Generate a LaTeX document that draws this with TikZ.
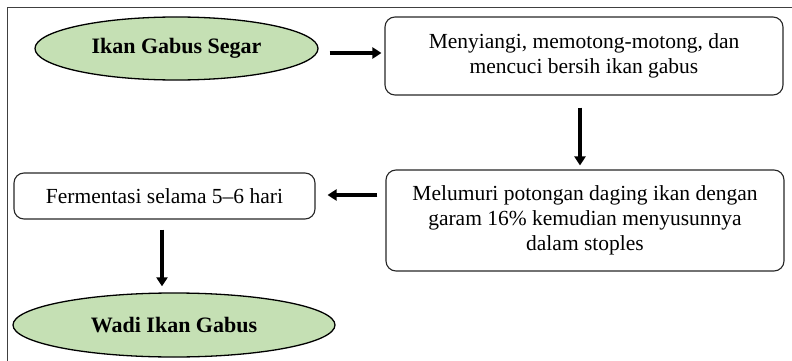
\documentclass[tikz,border=0pt]{standalone}
\usepackage{fontspec}
\setmainfont{Liberation Serif}
\usetikzlibrary{shapes.geometric,arrows.meta}
\definecolor{lgreen}{HTML}{C5E0B4}
\tikzset{
  startend/.style={ellipse, draw=black, line width=1.3pt, fill=lgreen, inner sep=0pt, font=\fontsize{22}{26}\selectfont\bfseries},
  procbox/.style={rectangle, rounded corners=10pt, draw=black!85, line width=1.1pt, inner sep=0pt, align=center, font=\fontsize{21.5}{25}\selectfont},
  flow/.style={-{Triangle[length=9pt,width=11pt]}, line width=3.2pt}
}
\begin{document}
\begin{tikzpicture}[x=1pt,y=-1pt]
\useasboundingbox (0,0) rectangle (792,361);
\draw[black!75, line width=0.8pt] (7,361) -- (7,7) -- (792,7);
\node[startend, minimum width=283pt, minimum height=63pt] (s) at (176.5,48.5) {Ikan Gabus Segar};
\node[procbox, minimum width=398pt, minimum height=78pt] (b1) at (584,56) {Menyiangi, memotong-motong, dan\\mencuci bersih ikan gabus};
\node[procbox, minimum width=398pt, minimum height=101pt] (b2) at (585,220.5) {Melumuri potongan daging ikan dengan\\garam 16\% kemudian menyusunnya\\dalam stoples};
\node[procbox, minimum width=301pt, minimum height=46pt] (b3) at (164.5,196) {Fermentasi selama 5–6 hari};
\node[startend, minimum width=322pt, minimum height=64pt] (e) at (174,325) {Wadi Ikan Gabus};
\draw[flow] ([xshift=11pt]s.east |- 0,53) -- ([xshift=-3pt]b1.west |- 0,53);
\draw[flow] ([yshift=-12pt]b1.south -| 580,0) -- ([yshift=4pt]b2.north -| 580,0);
\draw[flow] ([xshift=-8pt]b2.west |- 0,195) -- ([xshift=12pt]b3.east |- 0,195);
\draw[flow] ([yshift=-10pt]b3.south -| 162,0) -- ([yshift=6pt]e.north -| 162,0);
\end{tikzpicture}
\end{document}
